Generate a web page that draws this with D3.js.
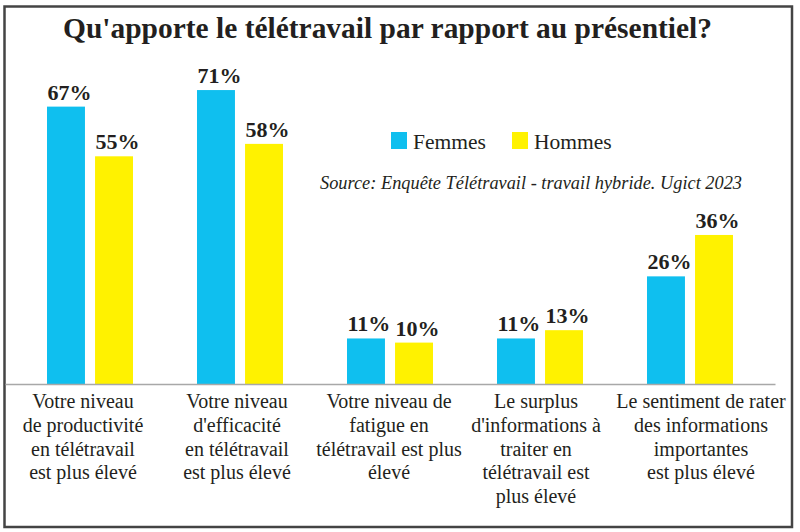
<!DOCTYPE html>
<html>
<head>
<meta charset="utf-8">
<script src="https://cdn.jsdelivr.net/npm/d3@7"></script>
<style>
  html, body { margin: 0; padding: 0; background: #fff; }
  svg { display: block; }
</style>
</head>
<body>
<svg id="chart" width="800" height="532"></svg>
<script>
// ---- data ----
const categories = [
  ["Votre niveau", "de productivité", "en télétravail", "est plus élevé"],
  ["Votre niveau", "d'efficacité", "en télétravail", "est plus élevé"],
  ["Votre niveau de", "fatigue en", "télétravail est plus", "élevé"],
  ["Le surplus", "d'informations à", "traiter en", "télétravail est", "plus élevé"],
  ["Le sentiment de rater", "des informations", "importantes", "est plus élevé"]
];
const seriesNames = ["Femmes", "Hommes"];
const femmes = [67, 71, 11, 11, 26];
const hommes = [55, 58, 10, 13, 36];
const title = "Qu'apporte le télétravail par rapport au présentiel?";
const source = "Source: Enquête Télétravail - travail hybride. Ugict 2023";

// ---- layout / style ----
const colors = ["#0fbfef", "#fff200"];
const labelShift = [-7, -3, -1, -4, 11];
const serif = "'Liberation Serif', 'Times New Roman', serif";
const ink = "#231f20";

const svg = d3.select("#chart");
svg.append("rect").attr("x", 0).attr("y", 0).attr("width", 800).attr("height", 532).attr("fill", "#fff");
svg.append("rect").attr("x", 4.5).attr("y", 6.5).attr("width", 787.5).attr("height", 520.5)
  .attr("fill", "none").attr("stroke", "#444").attr("stroke-width", 2.5);

const idx = d3.range(categories.length);
const x = d3.scaleBand().domain(idx).range([5, 775]).paddingInner(0).paddingOuter(0.0667);
const xs = d3.scaleBand().domain([0, 1]).range([x.bandwidth() / 2 - 43, x.bandwidth() / 2 + 43]).paddingInner(0.21);
const y = d3.scaleLinear().domain([0, 100]).range([384, -30]);

// title
svg.append("text").attr("x", 63).attr("y", 38)
  .attr("font-family", serif).attr("font-weight", "bold").attr("font-size", 30)
  .attr("fill", ink).attr("textLength", 649).attr("lengthAdjust", "spacingAndGlyphs")
  .text(title);

// bars
const series = [femmes, hommes];
series.forEach((vals, s) => {
  const g = svg.append("g");
  g.selectAll("rect").data(vals).join("rect")
    .attr("x", (d, i) => x(i) + xs(s))
    .attr("y", d => y(d))
    .attr("width", xs.bandwidth())
    .attr("height", d => y(0) - y(d))
    .attr("fill", colors[s]);
  g.selectAll("text").data(vals).join("text")
    .attr("x", (d, i) => x(i) + xs(s) + 0.5)
    .attr("y", d => y(d) - 7)
    .attr("font-family", serif).attr("font-weight", "bold").attr("font-size", 22)
    .attr("fill", ink)
    .text(d => d + "%");
});

// axis
const axis = d3.axisBottom(x).tickSize(0).tickSizeOuter(0).tickFormat("");
const ax = svg.append("g").attr("transform", `translate(0,${y(0)})`).call(axis);
ax.select(".domain").attr("stroke", "#a8a8a8").attr("stroke-width", 1.6);

// category labels
idx.forEach(i => {
  const t = svg.append("text")
    .attr("font-family", serif).attr("font-size", 20).attr("fill", ink)
    .attr("text-anchor", "middle");
  categories[i].forEach((line, k) => {
    t.append("tspan")
      .attr("x", x(i) + x.bandwidth() / 2 + labelShift[i])
      .attr("y", 408 + k * 23.8)
      .text(line);
  });
});

// legend
const legX = [391, 512];
seriesNames.forEach((n, s) => {
  svg.append("rect").attr("x", legX[s]).attr("y", 132).attr("width", 16).attr("height", 17).attr("fill", colors[s]);
  svg.append("text").attr("x", legX[s] + 22).attr("y", 149)
    .attr("font-family", serif).attr("font-size", 21.5).attr("fill", ink).text(n);
});

// source
svg.append("text").attr("x", 320).attr("y", 189)
  .attr("font-family", serif).attr("font-style", "italic").attr("font-size", 19)
  .attr("fill", ink).attr("textLength", 422).attr("lengthAdjust", "spacingAndGlyphs")
  .text(source);
</script>
</body>
</html>
